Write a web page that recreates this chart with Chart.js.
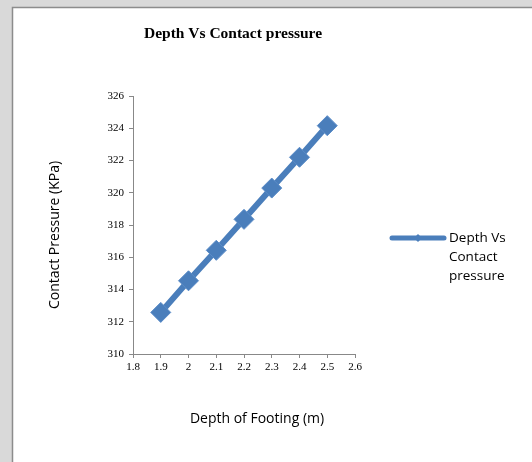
<!DOCTYPE html>
<html>
<head>
<meta charset="utf-8">
<script src="https://cdn.jsdelivr.net/npm/chart.js@4.4.1/dist/chart.umd.min.js"></script>
<style>
  html, body { margin: 0; padding: 0; background: #d9d9d9; }
  #wrap { position: absolute; left: 0; top: 0; width: 532px; height: 462px; }
</style>
</head>
<body>
<div id="wrap"><canvas id="c" width="532" height="462"></canvas></div>
<script>
const chartTitle = 'Depth Vs Contact pressure';
const seriesName = 'Depth Vs Contact pressure';
const legendLines = ['Depth Vs', 'Contact', 'pressure'];
const xTitle = 'Depth of Footing (m)';
const yTitle = 'Contact Pressure (KPa)';
const depths = [1.9, 2.0, 2.1, 2.2, 2.3, 2.4, 2.5];
const pressures = [312.58, 314.54, 316.43, 318.35, 320.29, 322.2, 324.16];
const xRange = [1.8, 2.6];
const yRange = [310, 326];

const blue = '#4a7ebb';
const serif = '"Liberation Serif", "Times New Roman", serif';
const sans = '"Open Sans", sans-serif';

const bgPlugin = {
  id: 'bg',
  beforeDraw(chart) {
    const ctx = chart.ctx;
    ctx.save();
    ctx.fillStyle = '#d9d9d9';
    ctx.fillRect(0, 0, chart.width, chart.height);
    ctx.fillStyle = '#ffffff';
    ctx.fillRect(12, 7, chart.width, chart.height);
    ctx.strokeStyle = '#8c8c8c';
    ctx.lineWidth = 1.5;
    ctx.beginPath();
    ctx.moveTo(12.5, chart.height + 2);
    ctx.lineTo(12.5, 7.5);
    ctx.lineTo(chart.width + 2, 7.5);
    ctx.stroke();
    ctx.restore();
  }
};

const textPlugin = {
  id: 'texts',
  afterDraw(chart) {
    const ctx = chart.ctx;
    const ds = chart.data.datasets[0];
    ctx.save();
    ctx.fillStyle = '#000';
    ctx.textBaseline = 'middle';
    ctx.textAlign = 'center';
    // chart title
    ctx.font = 'bold 15.5px ' + serif;
    ctx.fillText(chartTitle, 233, 34);
    // x axis title
    ctx.font = '14px ' + sans;
    ctx.fillText(xTitle, 257, 419);
    // y axis title
    ctx.save();
    ctx.translate(55, 235);
    ctx.rotate(-Math.PI / 2);
    ctx.fillText(yTitle, 0, 0);
    ctx.restore();
    // legend
    const ly = 238;
    ctx.strokeStyle = ds.borderColor;
    ctx.lineWidth = 5;
    ctx.lineCap = 'round';
    ctx.beginPath();
    ctx.moveTo(392, ly);
    ctx.lineTo(444, ly);
    ctx.stroke();
    ctx.fillStyle = ds.borderColor;
    ctx.beginPath();
    ctx.moveTo(418, ly - 4);
    ctx.lineTo(422, ly);
    ctx.lineTo(418, ly + 4);
    ctx.lineTo(414, ly);
    ctx.closePath();
    ctx.fill();
    ctx.fillStyle = '#000';
    ctx.font = '13.5px ' + sans;
    ctx.textAlign = 'left';
    legendLines.forEach((t, i) => ctx.fillText(t, 449, ly + i * 19));
    ctx.restore();
  }
};

new Chart(document.getElementById('c'), {
  type: 'line',
  data: {
    datasets: [{
      label: seriesName,
      data: depths.map((d, i) => ({ x: d, y: pressures[i] })),
      borderColor: blue,
      backgroundColor: blue,
      borderWidth: 6,
      pointStyle: 'rectRot',
      pointRadius: 10,
      pointBorderColor: '#5a8cc8',
      pointBorderWidth: 1,
      pointBackgroundColor: blue,
      tension: 0
    }]
  },
  options: {
    responsive: false,
    animation: false,
    devicePixelRatio: 1,
    layout: { padding: { left: 0, right: 177, top: 96, bottom: 0 } },
    plugins: {
      legend: { display: false },
      tooltip: { enabled: false },
      title: { display: false }
    },
    scales: {
      x: {
        type: 'linear',
        min: xRange[0],
        max: xRange[1],
        afterFit(s) { s.height = 108; },
        ticks: {
          stepSize: 0.1,
          color: '#000',
          padding: 3,
          maxRotation: 0,
          callback: v => String(+v.toFixed(1)),
          font: { family: serif, size: 11 }
        },
        grid: { drawOnChartArea: false, drawTicks: true, tickLength: 4, color: '#888' },
        border: { display: true, color: '#888', width: 1 }
      },
      y: {
        type: 'linear',
        min: yRange[0],
        max: yRange[1],
        afterFit(s) { s.width = 133; },
        ticks: {
          stepSize: 2,
          color: '#000',
          padding: 5,
          font: { family: serif, size: 11 }
        },
        grid: { drawOnChartArea: false, drawTicks: true, tickLength: 4, color: '#888' },
        border: { display: true, color: '#888', width: 1 }
      }
    }
  },
  plugins: [bgPlugin, textPlugin]
});
</script>
</body>
</html>
